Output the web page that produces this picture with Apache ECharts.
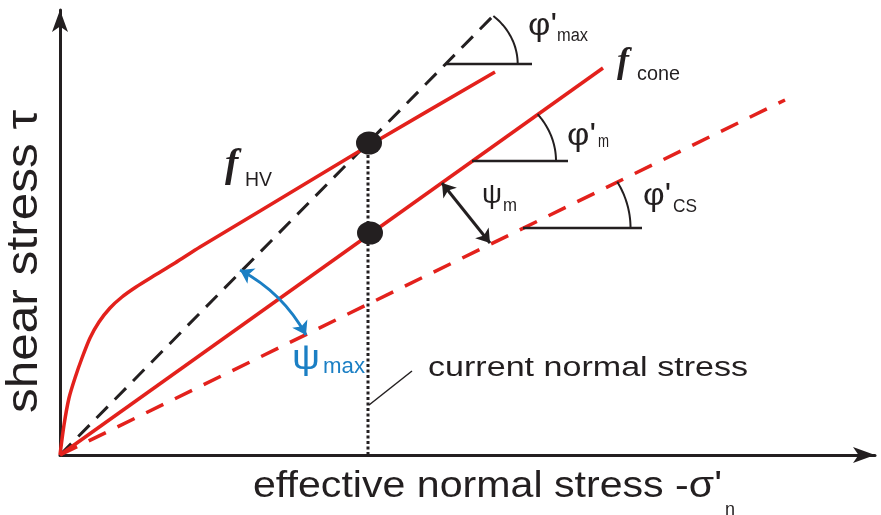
<!DOCTYPE html>
<html><head><meta charset="utf-8">
<script src="https://cdn.jsdelivr.net/npm/echarts@6/dist/echarts.min.js"></script>
<style>html,body{margin:0;padding:0;background:#fff}#c{width:881px;height:515px}</style>
</head><body><div id="c"></div>
<script>
// ---- axis extents (schematic units) ----
const xMax = 815, yMax = 445;
// ---- envelopes ----
const phiMaxLine = [[0,0],[432,438]];
const coneLine = [[0,0],[543,387]];
const csLine = [[0,0],[725,355]];
const hvCurve = [[0,0],[4,30],[9,57],[15,77],[22,97],[30,117],[39,133],[50,147],[62,158],[76,168],[92,178],[115,192],[140,208],[200,244],[308,309],[435,383]];
// ---- current state ----
const currentLine = [[308,0],[308,312]];
const stateDots = [[309,312],[310,222]];
const leaderLine = [[309,50],[352,84]];
// ---- dilatancy arrows ----
const psiMArrow = [[382,272],[430,212]];
const psiMaxArrow = [[180,185],[246,120]];
// ---- angle markers: vertex, end of horizontal leg, radius, slope of line ----
const angleVertex = [[386,391],[412,294],[463,227]];
const angleEnd = [472,508,582];
const angleRadius = [64,75,96];
const angleSlope = [438/432, 387/543, 355/725];
// ---- labels: text, anchor (left, baseline) ----
const labelText = ["current normal stress","effective normal stress -σ'","n","shear stress τ",
  "φ'","max","φ'","m","φ'","CS","ψ","m","ψ","max","f","HV","f","cone"];
const labelAt = [[368,77],[193,-45],[665,-61],[-20,42],
  [468,418],[497,413],[507,308],[538,307],[583,248],[613,242],[422,250],[443,243],[232,83],[263,80],
  [165,275],[185,268],[557,380],[577,373]];

const RED = '#e3211c', BLACK = '#231f20', BLUE = '#1b7fc4';
const SANS = '"Liberation Sans", Arial, sans-serif';
const SERIF = '"Liberation Serif", "Times New Roman", serif';
const labelStyle = [
  {w:320,size:27},{w:469,size:36},{size:18},{w:303,size:44,rot:true},
  {w:29,size:31},{w:31,size:18},{w:29,size:31},{w:11,size:18},{w:28,size:31},{w:24,size:18},
  {w:20,size:27},{w:14,size:18},{w:28,size:35,color:BLUE},{w:42,size:22,color:BLUE},
  {size:40,serif:true},{w:27,size:20},{size:36,serif:true},{w:43,size:21}
];

const chart = echarts.init(document.getElementById('c'), null, {renderer:'canvas'});
chart.setOption({
  animation:false,
  backgroundColor:'#fff',
  grid:{left:60, right:881-875, top:10, bottom:515-455, containLabel:false},
  xAxis:{type:'value', min:0, max:xMax, splitLine:{show:false}, axisTick:{show:false}, axisLabel:{show:false},
    axisLine:{show:true, onZero:false, symbol:['none','arrow'], symbolSize:[12,22], lineStyle:{color:BLACK,width:3}}},
  yAxis:{type:'value', min:0, max:yMax, splitLine:{show:false}, axisTick:{show:false}, axisLabel:{show:false},
    axisLine:{show:true, onZero:false, symbol:['none','arrow'], symbolSize:[12,22], lineStyle:{color:BLACK,width:3}}},
  series:[
    {type:'line', data:csLine, showSymbol:false, clip:false, z:2, lineStyle:{color:RED,width:3.5,type:[19,13]}},
    {type:'line', data:phiMaxLine, showSymbol:false, clip:false, z:2, lineStyle:{color:BLACK,width:3,type:[16,10]}},
    {type:'line', data:currentLine, showSymbol:false, clip:false, z:3, lineStyle:{color:BLACK,width:3,type:[3,2.5]}},
    {type:'line', data:leaderLine, showSymbol:false, clip:false, z:3, lineStyle:{color:BLACK,width:1.5}},
    {type:'line', data:coneLine, showSymbol:false, clip:false, z:4, lineStyle:{color:RED,width:3.5}},
    {type:'line', data:hvCurve, smooth:0.25, showSymbol:false, clip:false, z:4, lineStyle:{color:RED,width:3.5}},
    {type:'lines', coordinateSystem:'cartesian2d', z:5, symbol:['arrow','arrow'], symbolSize:13,
      data:[{coords:psiMArrow}], lineStyle:{color:BLACK,width:3,opacity:1,curveness:0}},
    {type:'lines', coordinateSystem:'cartesian2d', z:5, symbol:['arrow','arrow'], symbolSize:13,
      data:[{coords:psiMaxArrow}], lineStyle:{color:BLUE,width:3,opacity:1,curveness:0.15}},
    {type:'scatter', data:stateDots, symbol:'circle', symbolSize:[26,23], z:6, itemStyle:{color:BLACK,opacity:1}}
  ]
});

const mctx = document.createElement('canvas').getContext('2d');
function P(p){ return chart.convertToPixel({gridIndex:0}, p); }
const g = [];
// angle markers
const SX = 1.12;
for (let i=0;i<angleVertex.length;i++){
  const v = P(angleVertex[i]);
  const e = P([angleEnd[i], angleVertex[i][1]]);
  g.push({type:'line', z:10, shape:{x1:v[0],y1:v[1],x2:e[0],y2:e[1]}, style:{stroke:BLACK,lineWidth:2.6}});
  const th = Math.atan(angleSlope[i]*SX), r = angleRadius[i], pts=[];
  for (let k=0;k<=30;k++){ const t = th*k/30; pts.push([v[0]+r*SX*Math.cos(t), v[1]-r*Math.sin(t)]); }
  g.push({type:'polyline', z:10, shape:{points:pts}, style:{stroke:BLACK,lineWidth:2,fill:null}});
}
// labels
for (let i=0;i<labelText.length;i++){
  const s = labelStyle[i];
  const font = (s.serif ? 'italic bold ' : '') + s.size + 'px ' + (s.serif ? SERIF : SANS);
  mctx.font = font;
  const mw = mctx.measureText(labelText[i]).width;
  const sc = s.w ? s.w / mw : 1;
  const a = P(labelAt[i]);
  g.push({type:'text', z:20, x:a[0], y:a[1], rotation: s.rot ? Math.PI/2 : 0, scaleX: sc,
    style:{text:labelText[i], x:0, y:-0.35*s.size, font:font, fill:s.color||BLACK, align:'left', verticalAlign:'middle'}});
}
chart.setOption({graphic:g});
</script></body></html>
